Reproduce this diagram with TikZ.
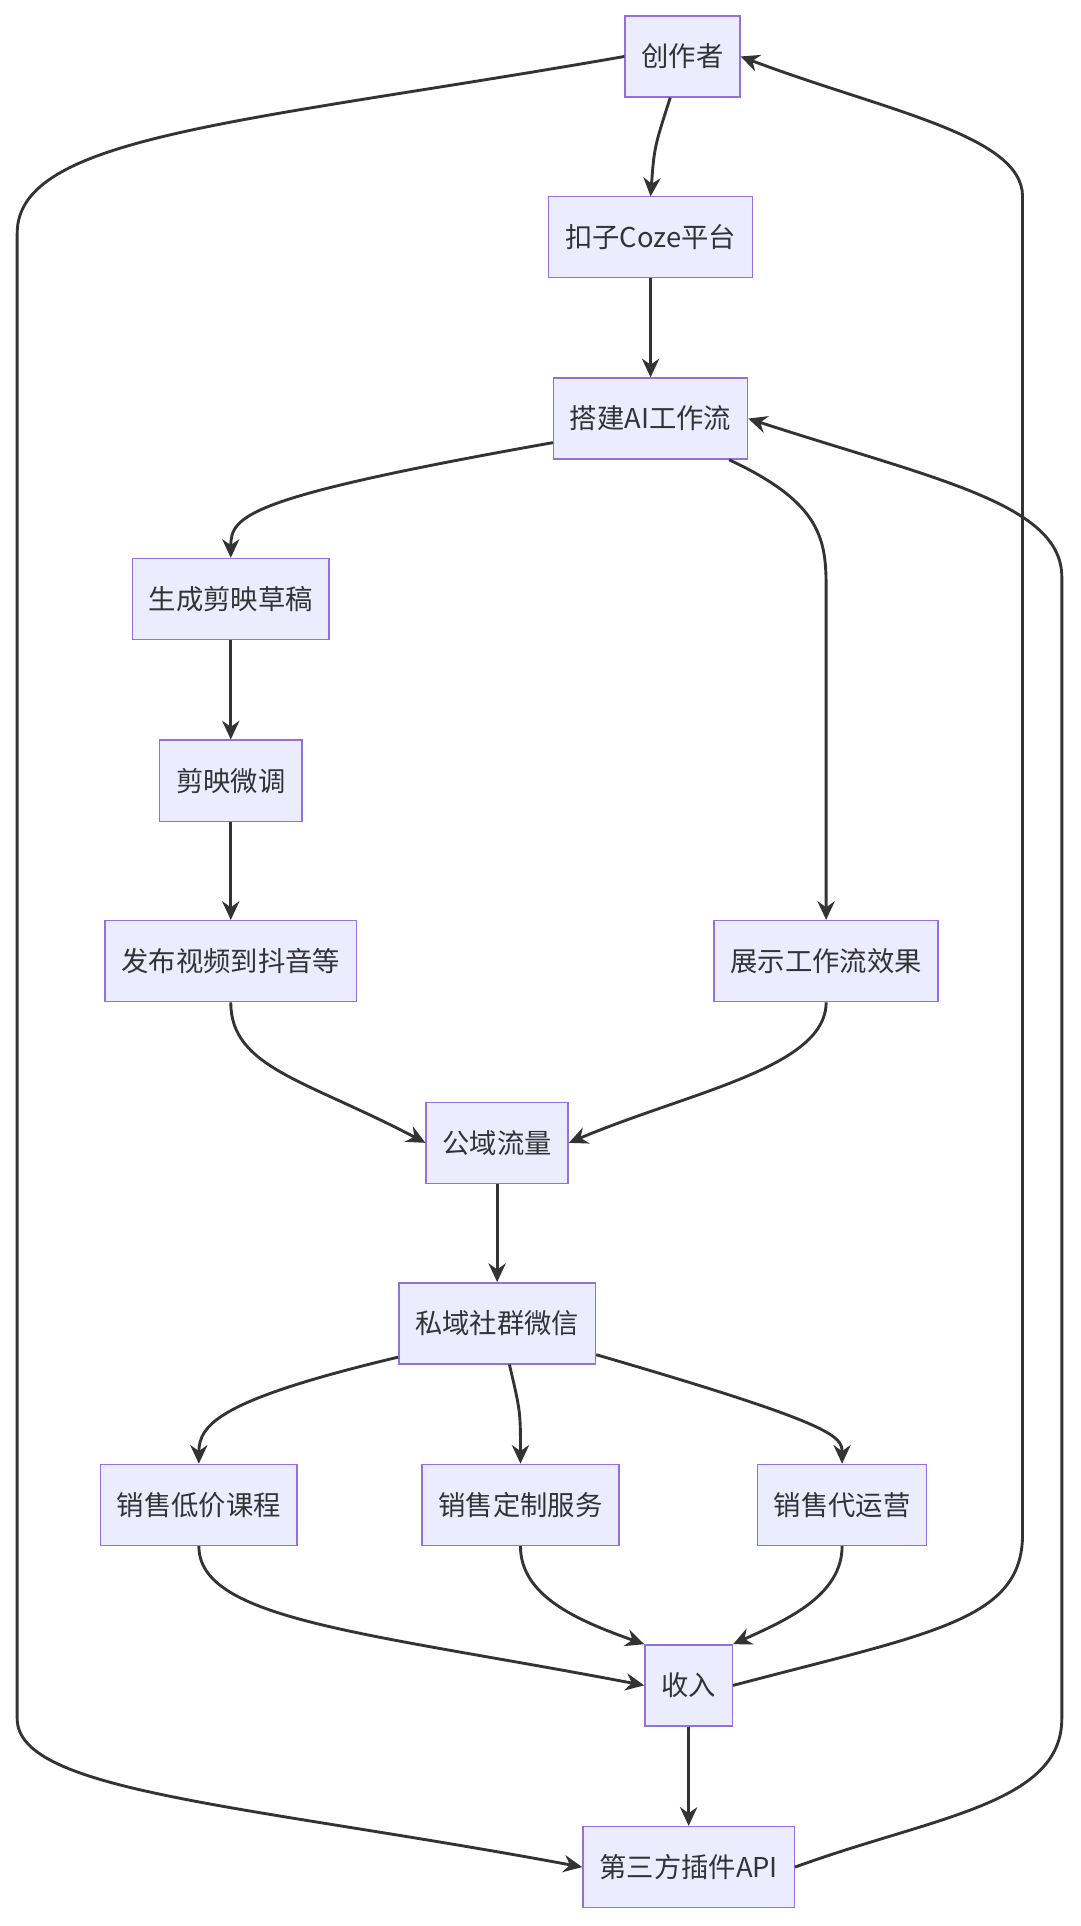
\documentclass[tikz,border=0pt]{standalone}
\usepackage{fontspec}
\setmainfont{Noto Sans CJK SC}
\usetikzlibrary{arrows.meta,positioning}
\definecolor{boxfill}{HTML}{ECECFF}
\definecolor{boxline}{HTML}{9370DB}
\definecolor{pfeil}{HTML}{333333}
\tikzset{
  box/.style={draw=boxline, fill=boxfill, line width=1pt, minimum height=1.98cm, inner xsep=0.4cm, font=\fontsize{19}{22}\selectfont, text=pfeil},
  flow/.style={draw=pfeil, line width=2pt, -{Stealth[length=13pt,width=12pt]}}
}
\begin{document}
\begin{tikzpicture}[x=0.03cm, y=-0.03cm]
    \useasboundingbox (0,0) rectangle (880,1569);

    \node[box] (creator) at (556,46) {创作者};
    \node[box] (coze) at (530,193) {扣子Coze平台};
    \node[box] (flow) at (530,341) {搭建AI工作流};
    \node[box] (draft) at (188,488) {生成剪映草稿};
    \node[box] (tune) at (188,636) {剪映微调};
    \node[box] (publish) at (188,783) {发布视频到抖音等};
    \node[box] (show) at (673,783) {展示工作流效果};
    \node[box] (public) at (405,931) {公域流量};
    \node[box] (private) at (405,1078) {私域社群微信};
    \node[box] (course) at (162,1226) {销售低价课程};
    \node[box] (custom) at (424,1226) {销售定制服务};
    \node[box] (oper) at (686,1226) {销售代运营};
    \node[box] (income) at (561,1373) {收入};
    \node[box] (api) at (561,1521) {第三方插件API};

    \draw[flow] (creator.south) ++(-10,0) .. controls (533,120) .. (530,160);
    \draw[flow] (coze) -- (flow);
    \draw[flow] (flow.south west) ++(0,-14) .. controls (200,405) and (188,420) .. (draft.north);
    \draw[flow] (flow.south) ++(64,0) .. controls (670,410) and (673,440) .. (673,480) -- (show.north);
    \draw[flow] (draft) -- (tune);
    \draw[flow] (tune) -- (publish);
    \draw[flow] (publish.south) .. controls (188,870) and (250,880) .. (public.west);
    \draw[flow] (show.south) .. controls (673,870) and (560,890) .. (public.east);
    \draw[flow] (public) -- (private);
    \draw[flow] (private.south west) ++(0,-6) .. controls (180,1140) and (162,1160) .. (course.north);
    \draw[flow] (private.south) ++(10,0) .. controls (424,1150) .. (custom.north);
    \draw[flow] (private.south east) ++(0,-8) .. controls (680,1160) and (686,1170) .. (oper.north);
    \draw[flow] (course.south) .. controls (162,1320) and (300,1330) .. (income.west);
    \draw[flow] (custom.south) .. controls (424,1300) and (470,1320) .. (income.north west);
    \draw[flow] (oper.south) .. controls (686,1300) and (640,1320) .. (income.north east);
    \draw[flow] (income) -- (api);
    \draw[flow] (income.east) .. controls (760,1330) and (833,1320) .. (833,1250)
        -- (833,160) .. controls (833,110) and (720,90) .. (creator.east);
    \draw[flow] (creator.west) .. controls (200,100) and (14,110) .. (14,190)
        -- (14,1400) .. controls (14,1460) and (200,1470) .. (api.west);
    \draw[flow] (api.east) .. controls (760,1480) and (865,1470) .. (865,1400)
        -- (865,470) .. controls (865,410) and (760,390) .. (flow.east);
\end{tikzpicture}
\end{document}
